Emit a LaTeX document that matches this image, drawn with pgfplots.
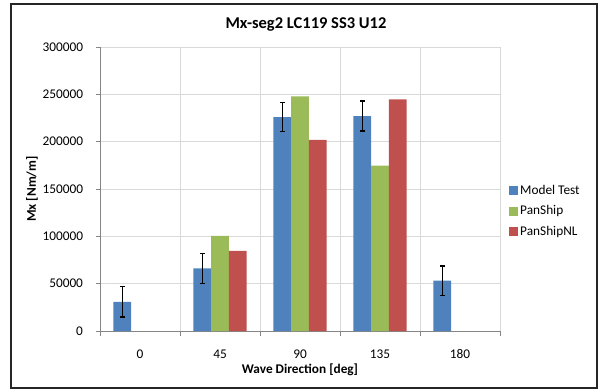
\documentclass[border=0pt]{standalone}
\usepackage{pgfplots}
\pgfplotsset{compat=1.18}
\usepackage{fontspec}
\setmainfont{Carlito}
\definecolor{cBlue}{HTML}{4F81BD}
\definecolor{cGreen}{HTML}{9BBB59}
\definecolor{cRed}{HTML}{C0504D}
\definecolor{cGrid}{HTML}{D9D9D9}
\definecolor{cAxis}{HTML}{868686}
\begin{document}
\begin{tikzpicture}[x=1bp,y=1bp]
\useasboundingbox (0,0) rectangle (600,391);
\draw[line width=2bp, black!85] (11,3) rectangle (597,387);
\node[font=\fontsize{16.5bp}{19bp}\selectfont\bfseries] at (306,367) {Mx-seg2 LC119 SS3 U12};
\begin{axis}[
  at={(100bp,60bp)}, anchor=south west,
  scale only axis, width=400bp, height=284bp,
  xmin=-0.5, xmax=4.5, ymin=0, ymax=300000,
  ybar=0pt, bar width=17.7bp,
  xtick={0,1,2,3,4}, xticklabels={0,45,90,135,180},
  minor xtick={-0.5,0.5,1.5,2.5,3.5,4.5},
  ytick={0,50000,100000,150000,200000,250000,300000},
  scaled y ticks=false,
  /pgf/number format/.cd, fixed, 1000 sep={}, assume math mode=true,
  /pgfplots/.cd,
  axis lines*=left,
  axis line style={cAxis, line width=0.9bp},
  ymajorgrids, xminorgrids,
  grid style={cGrid, line width=0.9bp},
  minor grid style={cGrid, line width=0.9bp},
  tick align=outside,
  major x tick style={draw=none},
  minor x tick style={cAxis, line width=0.9bp},
  minor tick length=5bp,
  major tick length=4bp,
  y tick style={cAxis, line width=0.9bp},
  tick label style={font=\fontsize{13.3bp}{15bp}\selectfont},
  xticklabel style={yshift=-11bp},
  yticklabel style={xshift=-9.5bp},
  xlabel={Wave Direction [deg]},
  ylabel={Mx [Nm/m]},
  every axis x label/.style={at={(axis description cs:0.5,-0.137)}, anchor=center,
    font=\fontsize{13.3bp}{15bp}\selectfont\bfseries},
  every axis y label/.style={at={(axis description cs:-0.17,0.5)}, anchor=center, rotate=90,
    font=\fontsize{13.3bp}{15bp}\selectfont\bfseries},
  legend style={at={(1.02,0.4225)}, anchor=west, draw=none, fill=none,
    font=\fontsize{13.3bp}{15bp}\selectfont, row sep=6bp, inner sep=1bp,
    cells={anchor=west}},
  legend image code/.code={\fill[#1] (0bp,-4.5bp) rectangle (9bp,4.5bp);},
]
\addplot[fill=cBlue, draw=none,
  error bars/.cd, y dir=both, y explicit,
  error bar style={line width=1.5bp, black},
  error mark options={rotate=90, mark size=2.5bp, line width=1.5bp, black}]
  table[x=x, y=y, y error=e] {
x y e
0 30900 16000
1 66100 16000
2 226000 15500
3 227100 15800
4 53100 15800
};
\addplot[fill=cGreen, draw=none] table[x=x, y=y] {
x y
1 100500
2 247900
3 174800
};
\addplot[fill=cRed, draw=none] table[x=x, y=y] {
x y
1 84700
2 201800
3 244700
};
\legend{Model Test, PanShip, PanShipNL}
\end{axis}
\end{tikzpicture}
\end{document}
